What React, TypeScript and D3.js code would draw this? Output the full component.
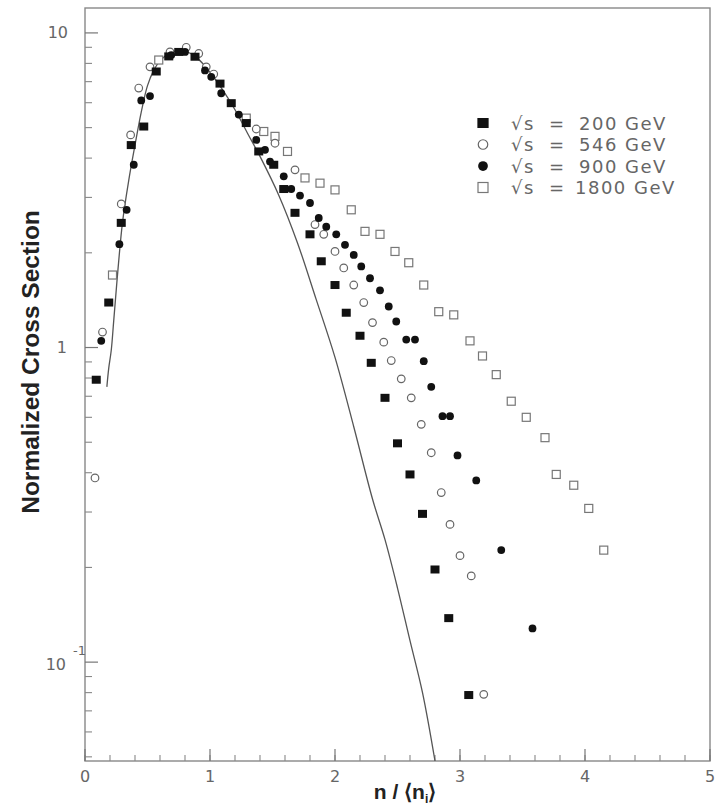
import React from "react";
import * as d3 from "d3";

const W = 717;
const H = 807;

// axis ticks
const xMajorTicks = [0, 1, 2, 3, 4, 5];
const xMinorTicks = d3.range(0, 5.001, 0.2);
const yMajorTicks = [0.1, 1, 10];
const yDecades = [0.01, 0.1, 1];

// reference curve (n/<n>, normalized cross section)
const curvePoints: [number, number][] = [
  [0.175, 0.75], [0.19, 0.86], [0.21, 0.98], [0.23, 1.22], [0.26, 1.7],
  [0.3, 2.5], [0.35, 3.4], [0.4, 4.4], [0.45, 5.6], [0.5, 6.8],
  [0.55, 7.6], [0.6, 8.15], [0.7, 8.7], [0.8, 8.75], [0.9, 8.3],
  [1.0, 7.5], [1.1, 6.6], [1.2, 5.7], [1.3, 4.8], [1.4, 4.05],
  [1.55, 3.05], [1.7, 2.15], [1.85, 1.42], [2.0, 0.93], [2.15, 0.56],
  [2.3, 0.33], [2.4, 0.245], [2.5, 0.172], [2.6, 0.117], [2.7, 0.08],
  [2.8, 0.0485],
];

// sqrt(s) = 200 GeV
const s200: [number, number][] = [
  [0.09, 0.79], [0.19, 1.39], [0.29, 2.49], [0.37, 4.4], [0.47, 5.04],
  [0.57, 7.54], [0.67, 8.42], [0.75, 8.7], [0.88, 8.4], [1.08, 6.9],
  [1.17, 5.98], [1.29, 5.17], [1.39, 4.2], [1.51, 3.81], [1.59, 3.19],
  [1.68, 2.68], [1.8, 2.29], [1.89, 1.88], [2.0, 1.58], [2.09, 1.29],
  [2.2, 1.09], [2.29, 0.894], [2.4, 0.692], [2.5, 0.496], [2.6, 0.395],
  [2.7, 0.296], [2.8, 0.197], [2.91, 0.138], [3.07, 0.0786],
];

// sqrt(s) = 546 GeV
const s546: [number, number][] = [
  [0.08, 0.385], [0.14, 1.12], [0.29, 2.86], [0.365, 4.74], [0.43, 6.68],
  [0.52, 7.8], [0.68, 8.7], [0.81, 9.0], [0.91, 8.6], [0.97, 7.8],
  [1.03, 7.4], [1.37, 4.95], [1.52, 4.46], [1.68, 3.67], [1.84, 2.46],
  [1.91, 2.29], [2.0, 2.02], [2.07, 1.79], [2.15, 1.58], [2.23, 1.39],
  [2.3, 1.2], [2.39, 1.04], [2.45, 0.909], [2.53, 0.795], [2.61, 0.692],
  [2.69, 0.57], [2.77, 0.463], [2.85, 0.346], [2.92, 0.274], [3.0, 0.218],
  [3.09, 0.188], [3.19, 0.079],
];

// sqrt(s) = 900 GeV
const s900: [number, number][] = [
  [0.13, 1.05], [0.275, 2.13], [0.333, 2.74], [0.39, 3.81], [0.45, 6.1],
  [0.52, 6.3], [0.69, 8.5], [0.8, 8.7], [0.96, 7.6], [1.01, 7.25],
  [1.09, 6.43], [1.23, 5.5], [1.37, 4.57], [1.44, 4.25], [1.48, 3.9],
  [1.59, 3.5], [1.65, 3.19], [1.72, 3.04], [1.8, 2.88], [1.87, 2.58],
  [1.93, 2.42], [2.01, 2.29], [2.08, 2.12], [2.15, 1.97], [2.21, 1.81],
  [2.28, 1.66], [2.36, 1.52], [2.43, 1.35], [2.49, 1.21], [2.57, 1.06],
  [2.64, 1.06], [2.71, 0.905], [2.77, 0.75], [2.86, 0.605], [2.92, 0.605],
  [2.98, 0.454], [3.13, 0.378], [3.33, 0.227], [3.58, 0.128],
];

// sqrt(s) = 1800 GeV
const s1800: [number, number][] = [
  [0.22, 1.7], [0.59, 8.2], [1.29, 5.36], [1.43, 4.86], [1.52, 4.69],
  [1.62, 4.2], [1.76, 3.46], [1.88, 3.33], [2.0, 3.17], [2.13, 2.74],
  [2.24, 2.34], [2.36, 2.29], [2.48, 2.02], [2.59, 1.86], [2.71, 1.58],
  [2.83, 1.3], [2.95, 1.27], [3.08, 1.05], [3.18, 0.94], [3.29, 0.82],
  [3.41, 0.675], [3.53, 0.6], [3.68, 0.517], [3.77, 0.395], [3.91, 0.365],
  [4.03, 0.308], [4.15, 0.227],
];

const legendEnergies = ["200", "546", "900", "1800"];

const left = 85;
const right = 710;
const top = 8;
const bottom = 761;

const x = d3.scaleLinear().domain([0, 5]).range([left, right]);
const y = d3.scaleLog().domain([0.0485, 12]).range([bottom, top]);

const lineGen = d3
  .line<[number, number]>()
  .x((d) => x(d[0]))
  .y((d) => y(d[1]))
  .curve(d3.curveCatmullRom.alpha(0.5));

type Kind = "fsq" | "ocirc" | "fcirc" | "osq";

function Marker({ kind, cx, cy, s = 1 }: { kind: Kind; cx: number; cy: number; s?: number }) {
  if (kind === "fsq")
    return <rect x={cx - 4.5 * s} y={cy - 4 * s} width={9 * s} height={8 * s} fill="#111" />;
  if (kind === "fcirc") return <circle cx={cx} cy={cy} r={3.9 * s} fill="#111" />;
  if (kind === "ocirc")
    return <circle cx={cx} cy={cy} r={3.8 * s} fill="white" stroke="#666" strokeWidth={1.2} />;
  return (
    <rect
      x={cx - 4 * s}
      y={cy - 4 * s}
      width={8 * s}
      height={8 * s}
      fill="white"
      stroke="#777"
      strokeWidth={1.2}
    />
  );
}

const seriesList: { kind: Kind; data: [number, number][] }[] = [
  { kind: "osq", data: s1800 },
  { kind: "ocirc", data: s546 },
  { kind: "fcirc", data: s900 },
  { kind: "fsq", data: s200 },
];

const legendKinds: Kind[] = ["fsq", "ocirc", "fcirc", "osq"];

export default function App() {
  const minorY: number[] = [];
  yDecades.forEach((d) => {
    for (let k = 2; k <= 9; k++) {
      const v = k * d;
      if (v >= 0.0485 && v <= 12) minorY.push(v);
    }
  });

  return (
    <svg
      width={W}
      height={H}
      style={{ position: "absolute", left: 0, top: 0, display: "block", background: "white" }}
    >
      <rect x={0} y={0} width={W} height={H} fill="white" />
      {/* frame */}
      <rect
        x={left}
        y={top}
        width={right - left}
        height={bottom - top}
        fill="none"
        stroke="#888"
        strokeWidth={1.4}
      />
      {/* y ticks */}
      {yMajorTicks.map((v) => (
        <line key={"ym" + v} x1={left} x2={left + 13} y1={y(v)} y2={y(v)} stroke="#777" strokeWidth={1.2} />
      ))}
      {minorY.map((v) => (
        <line key={"yn" + v} x1={left} x2={left + 7} y1={y(v)} y2={y(v)} stroke="#888" strokeWidth={1.1} />
      ))}
      {/* x ticks */}
      {xMinorTicks.map((v) => (
        <line key={"xn" + v} x1={x(v)} x2={x(v)} y1={bottom} y2={bottom - 6} stroke="#888" strokeWidth={1.1} />
      ))}
      {xMajorTicks.map((v) => (
        <line key={"xm" + v} x1={x(v)} x2={x(v)} y1={bottom} y2={bottom - 12} stroke="#777" strokeWidth={1.2} />
      ))}
      {/* tick labels */}
      <g fontFamily="DejaVu Sans" fontSize={16} fill="#666">
        {xMajorTicks.map((v) => (
          <text key={"xl" + v} x={x(v)} y={776} textAnchor="middle" dominantBaseline="central">
            {v}
          </text>
        ))}
        <text x={68} y={y(10)} textAnchor="end" dominantBaseline="central">
          10
        </text>
        <text x={67} y={y(1)} textAnchor="end" dominantBaseline="central">
          1
        </text>
        <text x={66} y={y(0.1) + 2} textAnchor="end" dominantBaseline="central">
          10
        </text>
        <text x={73} y={y(0.1) - 12} fontSize={13} dominantBaseline="central">
          -1
        </text>
      </g>
      {/* curve */}
      <path d={lineGen(curvePoints) || ""} fill="none" stroke="#555" strokeWidth={1.3} />
      {/* data points */}
      {seriesList.map((s) => (
        <g key={s.kind}>
          {s.data.map((d, i) => (
            <Marker key={i} kind={s.kind} cx={x(d[0])} cy={y(d[1])} />
          ))}
        </g>
      ))}
      {/* legend */}
      <g fontFamily="DejaVu Sans" fontSize={18} fill="#666" letterSpacing={1.5}>
        {legendEnergies.map((e, i) => {
          const ly = 123 + i * 21.5;
          return (
            <g key={e}>
              <Marker kind={legendKinds[i]} cx={483} cy={ly} s={1.25} />
              <text x={511} y={ly} dominantBaseline="central">
                √s
              </text>
              <text x={549} y={ly} dominantBaseline="central">
                =
              </text>
              <text x={e.length > 3 ? 575 : 579} y={ly} dominantBaseline="central">
                {e} GeV
              </text>
            </g>
          );
        })}
      </g>
      {/* axis titles */}
      <text
        transform="translate(39,362) rotate(-90)"
        textAnchor="middle"
        fontFamily="Liberation Sans, Arial, sans-serif"
        fontWeight="bold"
        fontSize={24.5}
        fill="#222"
      >
        Normalized Cross Section
      </text>
      <text
        x={405}
        y={799}
        textAnchor="middle"
        fontFamily="Liberation Sans, Arial, sans-serif"
        fontWeight="bold"
        fontSize={21}
        fill="#222"
      >
        n / ⟨n
        <tspan fontSize={12} dy={4}>
          i
        </tspan>
        <tspan dy={-4}>⟩</tspan>
      </text>
    </svg>
  );
}
